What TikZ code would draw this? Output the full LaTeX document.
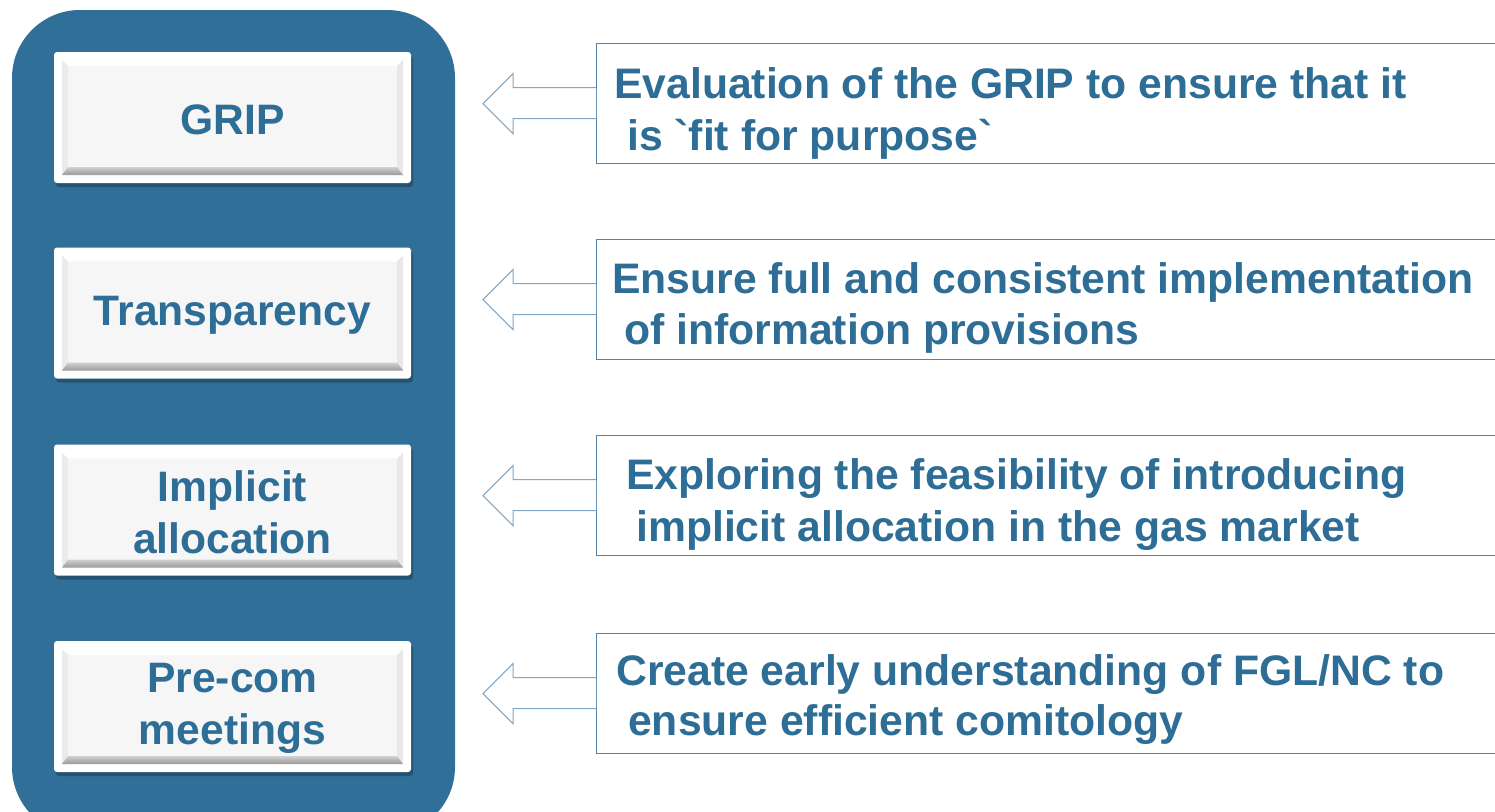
\documentclass[tikz,border=0pt]{standalone}
\usepackage{fontspec}
\newfontfamily\lab{Liberation Sans}[Ligatures=TeXOff]
\usetikzlibrary{shadows,calc}
\definecolor{bgblue}{RGB}{48,111,151}
\definecolor{txtblue}{RGB}{46,110,150}
\definecolor{boxline}{RGB}{84,132,170}
\definecolor{arrline}{RGB}{130,166,198}
\definecolor{facegray}{RGB}{246,246,246}
\tikzset{
  btn/.style={rectangle, rounded corners=3pt, fill=white, minimum width=357pt,
    minimum height=131pt, inner sep=0pt, text=txtblue, align=center,
    font=\lab\bfseries\fontsize{42.6}{52}\selectfont,
    drop shadow={shadow xshift=2pt, shadow yshift=-4pt, opacity=0.35, fill=black!70!bgblue},
    path picture={
      \coordinate (fa) at ($(path picture bounding box.north west)+(8,8)$);
      \coordinate (fb) at ($(path picture bounding box.south east)+(-8,-8)$);
      \fill[sharp corners, facegray] (fa) rectangle (fb);
      \fill[sharp corners, white] (fa) -- (fa -| fb) -- ($(fa -| fb)+(-6,6)$) -- ($(fa)+(6,6)$) -- cycle;
      \fill[sharp corners, black!8] (fa) -- ($(fa)+(6,6)$) -- ($(fa |- fb)+(6,-8)$) -- (fa |- fb) -- cycle;
      \fill[sharp corners, black!9] (fa -| fb) -- ($(fa -| fb)+(-6,6)$) -- ($(fb)+(-6,-8)$) -- (fb) -- cycle;
      \shade[sharp corners, top color=black!18, bottom color=black!40] (fa |- fb) -- (fb) -- ($(fb)+(-6,-8)$) -- ($(fa |- fb)+(6,-8)$) -- cycle;
    }},
  btntext/.style={inner sep=0pt, text=txtblue, align=center,
    font=\lab\bfseries\fontsize{42.6}{52}\selectfont},
  infobox/.style={rectangle, draw=boxline, line width=1.3pt, fill=white, minimum width=940pt,
    minimum height=120pt, anchor=north west, inner sep=0pt},
  infotext/.style={anchor=base west, inner sep=0pt, text=txtblue,
    font=\lab\bfseries\fontsize{42.7}{52}\selectfont},
  hollowarrow/.style={draw=arrline, line width=1pt, fill=white, line join=miter}
}
\begin{document}
\begin{tikzpicture}[x=1pt,y=-1pt]
\useasboundingbox (0,0) rectangle (1495,811);
\clip (0,0) rectangle (1495,811);
% background panel
\fill[bgblue, rounded corners=68pt] (12,10) rectangle (455,835);
% buttons
\node[btn] (b1) at (232.5,117.5) {};
\node[btn] (b2) at (232.5,313) {};
\node[btn] (b3) at (232.5,510) {};
\node[btn] (b4) at (232.5,706.5) {};
\node[btntext] (l1) at ($(b1.center)+(0,2)$) {GRIP};
\node[btntext] (l2) at ($(b2.center)+(0,2)$) {Transparency};
\node[btntext] (l3) at ($(b3.center)+(0,2)$) {Implicit\\allocation};
\node[btntext] (l4) at ($(b4.center)+(0,2)$) {Pre-com\\meetings};
% info boxes
\node[infobox] (r1) at (596,43) {};
\node[infobox] (r2) at (596,239) {};
\node[infobox] (r3) at (596,435) {};
\node[infobox] (r4) at (596,633) {};
% hollow arrows
\foreach \r in {r1,r2,r3,r4}{
  \draw[hollowarrow] ($(\r.west)+(0,-16)$) -- ++(-83,0) -- ++(0,-14) -- ++(-30,30)
     -- ++(30,30) -- ++(0,-15) -- ++(83,0);
}
% texts
\node[infotext] (t1a) at (614,98) {Evaluation of the GRIP to ensure that it};
\node[infotext] (t1b) at (627,150) {is `fit for purpose`};
\node[infotext] (t2a) at (612,293) {Ensure full and consistent implementation};
\node[infotext] (t2b) at (624,344) {of information provisions};
\node[infotext] (t3a) at (626,489) {Exploring the feasibility of introducing};
\node[infotext] (t3b) at (636,541) {implicit allocation in the gas market};
\node[infotext] (t4a) at (616,685) {Create early understanding of FGL/NC to};
\node[infotext] (t4b) at (628,735) {ensure efficient comitology};
\end{tikzpicture}
\end{document}
